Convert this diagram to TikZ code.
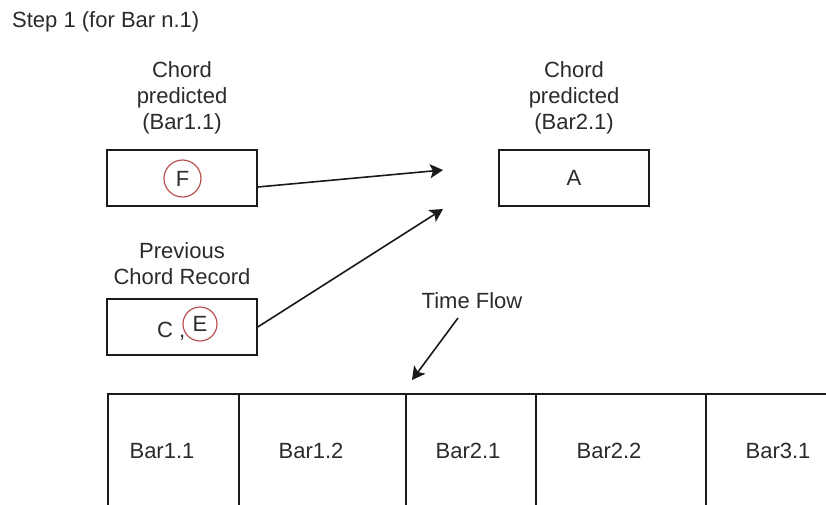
\documentclass[tikz,border=0pt]{standalone}
\usepackage{fontspec}
\setmainfont{Liberation Sans}
\usetikzlibrary{arrows.meta}
\definecolor{ink}{HTML}{1A1A1A}
\definecolor{textgray}{HTML}{2B2B2B}
\definecolor{ringred}{HTML}{B85450}
\tikzset{
  txt/.style={font=\fontsize{22}{26}\selectfont, text=textgray, align=center, inner sep=0pt},
  chordbox/.style={draw=ink, line width=1.5pt, minimum width=150pt, minimum height=56pt, inner sep=0pt},
  cellbox/.style={draw=ink, line width=1.5pt, anchor=north west, minimum height=130pt, inner sep=0pt},
  ring/.style={circle, draw=ringred, line width=1.2pt, minimum size=37pt, inner sep=0pt,
               font=\fontsize{22}{26}\selectfont, text=textgray},
  headtip/.tip={Stealth[length=13pt,width=14pt,inset=3pt]},
  flow/.style={draw=ink, line width=1.6pt, -headtip},
}
\begin{document}
\begin{tikzpicture}[x=1pt,y=-1pt]
\useasboundingbox (0,0) rectangle (826,504);
\clip (0,0) rectangle (826,504);
\fill[white] (0,0) rectangle (826,504);

% heading
\node[txt, anchor=base west] (step) at (12,27) {Step 1 (for Bar n.1)};

% predicted chords
\node[txt] (lblone) at (182,98) {Chord\\predicted\\(Bar1.1)};
\node[txt] (lbltwo) at (574,98) {Chord\\predicted\\(Bar2.1)};
\node[chordbox] (fbox) at (182,178) {};
\node[ring] (fring) at (182.5,178.5) {F};
\node[chordbox] (abox) at (574,178) {};
\node[txt] (atext) at (574,178) {A};

% previous record
\node[txt] (lblprev) at (182,264) {Previous\\Chord Record};
\node[chordbox] (cebox) at (182,327) {};
\node[txt, anchor=base west] (ctext) at (157,337) {C ,};
\node[ring, minimum size=34pt] (ering) at (200,324) {E};

% arrows into the next prediction
\coordinate (tipone) at (443,170);
\coordinate (tiptwo) at (443,209);
\draw[flow] ([yshift=-9pt]fbox.east) -- (tipone);
\draw[flow] (cebox.east) -- (tiptwo);

% time flow
\node[txt] (tflow) at (472,301) {Time Flow};
\coordinate (tfstart) at (458,318);
\coordinate (tfend) at (412,380);
\draw[flow] (tfstart) -- (tfend);

% bar sequence
\node[cellbox, minimum width=131pt] (cella) at (107,393) {};
\node[cellbox, minimum width=167pt] (cellb) at (238,393) {};
\node[cellbox, minimum width=130pt] (cellc) at (405,393) {};
\node[cellbox, minimum width=170pt] (celld) at (535,393) {};
\node[cellbox, minimum width=150pt] (celle) at (705,393) {};
\node[txt, anchor=base] (bara) at (162,458) {Bar1.1};
\node[txt, anchor=base] (barb) at (311,458) {Bar1.2};
\node[txt, anchor=base] (barc) at (468,458) {Bar2.1};
\node[txt, anchor=base] (bard) at (609,458) {Bar2.2};
\node[txt, anchor=base] (bare) at (778,458) {Bar3.1};
\end{tikzpicture}
\end{document}
